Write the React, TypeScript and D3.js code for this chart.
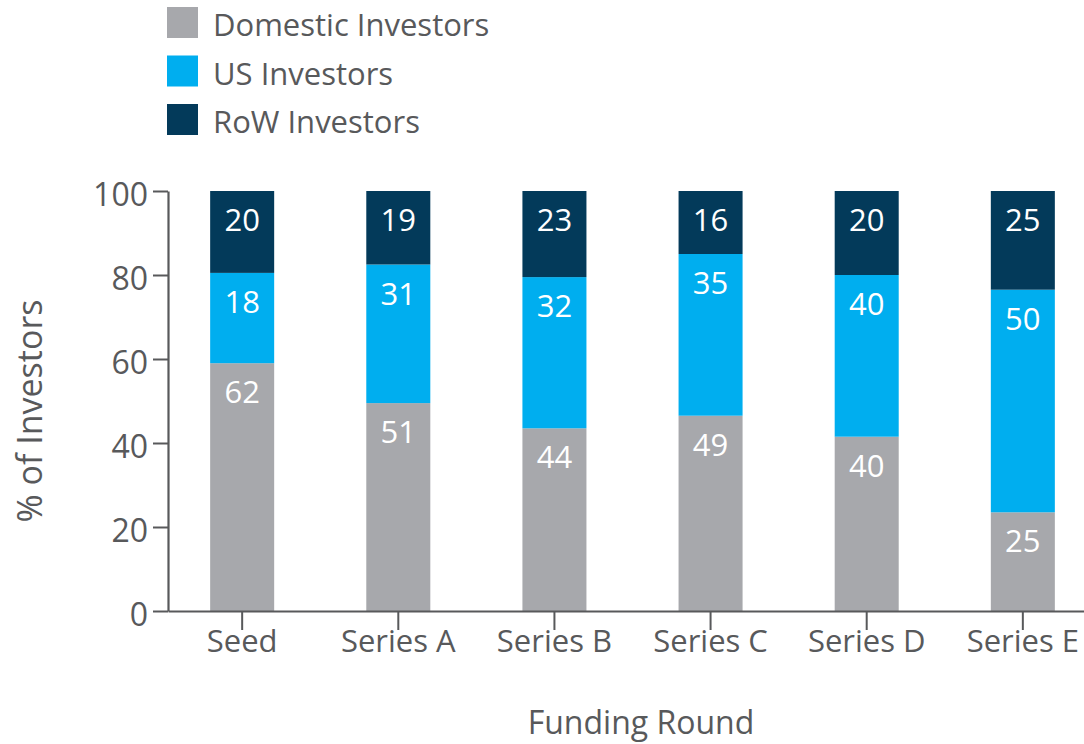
import { useEffect, useRef } from "react";
import * as d3 from "d3";

const rounds = ["Seed", "Series A", "Series B", "Series C", "Series D", "Series E"];

// segment heights as drawn in the picture
const domestic = [59, 49.5, 43.5, 46.5, 41.5, 23.5];
const us = [21.5, 33, 36, 38.5, 38.5, 53];
const row = [19.5, 17.5, 20.5, 15, 20, 23.5];

// numbers printed in the segments
const domesticLabels = [62, 51, 44, 49, 40, 25];
const usLabels = [18, 31, 32, 35, 40, 50];
const rowLabels = [20, 19, 23, 16, 20, 25];

const seriesNames = ["Domestic Investors", "US Investors", "RoW Investors"];
const colors = ["#a7a8ac", "#00aeef", "#033a5a"];
const yTicks = [0, 20, 40, 60, 80, 100];

const width = 1084;
const height = 744;
const font = "'Open Sans', sans-serif";
const ink = "#58595b";

export default function App() {
  const xAxisRef = useRef<SVGGElement>(null);
  const yAxisRef = useRef<SVGGElement>(null);

  const table = rounds.map((r, i) => ({
    round: r,
    domestic: domestic[i],
    us: us[i],
    row: row[i],
  }));
  const labels = [domesticLabels, usLabels, rowLabels];

  const stack = d3.stack<any>().keys(["domestic", "us", "row"]);
  const stacked = stack(table);

  const x = d3
    .scaleBand()
    .domain(rounds)
    .range([168, 1097])
    .paddingInner(0.59)
    .paddingOuter(0.27);

  const y = d3.scaleLinear().domain([0, 100]).range([611, 191]);

  useEffect(() => {
    document.body.style.margin = "0";

    const yAxis = d3.axisLeft(y).tickValues(yTicks).tickSize(15).tickSizeOuter(0).tickPadding(5);
    const yg = d3.select(yAxisRef.current!);
    yg.selectAll("*").remove();
    yg.call(yAxis as any);
    yg.select(".domain").attr("stroke", ink).attr("stroke-width", 2.2);
    yg.selectAll(".tick line").attr("stroke", ink).attr("stroke-width", 2);
    yg.selectAll(".tick text")
      .attr("fill", ink)
      .attr("font-size", 32)
      .attr("font-family", font)
      .attr("dy", "0.45em");

    const xAxis = d3.axisBottom(x).tickSize(19).tickSizeOuter(0).tickPadding(0);
    const xg = d3.select(xAxisRef.current!);
    xg.selectAll("*").remove();
    xg.call(xAxis as any);
    xg.select(".domain").attr("stroke", ink).attr("stroke-width", 2.2);
    xg.selectAll(".tick line").attr("stroke", ink).attr("stroke-width", 2);
    xg.selectAll(".tick text")
      .attr("fill", ink)
      .attr("font-size", 31)
      .attr("font-family", font);
  }, []);

  return (
    <svg width={width} height={height} style={{ display: "block" }}>
      {/* legend */}
      {seriesNames.map((name, i) => (
        <g key={name} transform={`translate(167,${7 + i * 48.5})`}>
          <rect width={31} height={31} fill={colors[i]} />
          <text x={46} y={29} fontSize={31} fontFamily={font} fill={ink}>
            {name}
          </text>
        </g>
      ))}

      {/* bars */}
      {stacked.map((layer, si) => (
        <g key={layer.key} fill={colors[si]}>
          {layer.map((d, i) => (
            <rect
              key={rounds[i]}
              x={x(rounds[i])}
              y={y(d[1])}
              width={x.bandwidth()}
              height={y(d[0]) - y(d[1])}
            />
          ))}
        </g>
      ))}

      {/* value labels */}
      {stacked.map((layer, si) => (
        <g key={layer.key + "-lab"}>
          {layer.map((d, i) => (
            <text
              key={rounds[i]}
              x={x(rounds[i])! + x.bandwidth() / 2}
              y={y(d[1]) + 29}
              dy="0.36em"
              textAnchor="middle"
              fontSize={31}
              fontFamily={font}
              fill="#ffffff"
            >
              {labels[si][i]}
            </text>
          ))}
        </g>
      ))}

      <g ref={yAxisRef} transform="translate(168,0)" />
      <g ref={xAxisRef} transform="translate(0,611)" />

      <text
        transform={`translate(42,${(y(0) + y(100)) / 2 + 10}) rotate(-90)`}
        textAnchor="middle"
        fontSize={34}
        fontFamily={font}
        fill={ink}
      >
        % of Investors
      </text>
      <text
        x={641}
        y={734}
        textAnchor="middle"
        fontSize={32}
        fontFamily={font}
        fill={ink}
      >
        Funding Round
      </text>
    </svg>
  );
}
